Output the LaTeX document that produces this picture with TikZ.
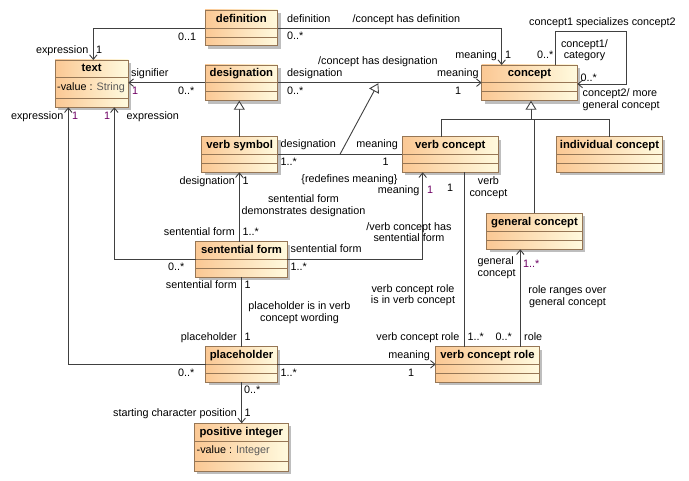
\documentclass[tikz,border=0pt]{standalone}
\usepackage{fontspec}
\setmainfont{Liberation Sans}
\usetikzlibrary{arrows.meta,shadows}
\definecolor{clsL}{RGB}{251,200,148}
\definecolor{clsR}{RGB}{255,250,222}
\definecolor{clsBorder}{RGB}{150,118,85}
\definecolor{shadowGray}{RGB}{190,190,190}
\definecolor{lineGray}{RGB}{64,64,64}
\definecolor{multPurple}{RGB}{110,0,100}
\definecolor{typeGray}{RGB}{90,90,90}
\newcommand\lblfont{\fontsize{10.8}{11.7}\selectfont}
\newcommand\ttlfont{\fontsize{11.3}{12}\selectfont}
\newcommand\umlcls[8]{%
  \node[clsbox, anchor=north west, minimum width={(#4-#2)*1pt}, minimum height={(#5-#3)*1pt}] (#1) at (#2,#3) {};
  \draw[clsline] (#2,#6) -- (#4,#6) (#2,#7) -- (#4,#7);
  \node[clstitle] (#1-t) at ({(#2+#4)/2},{(#3+#6)/2}) {#8};
}
\newcommand\lb[4]{\node[lbl, anchor=#3] (#1) at (#2) {#4};}
\newcommand\lp[4]{\node[lbl, anchor=#3, text=multPurple] (#1) at (#2) {#4};}
\newcommand\ml[5]{\node[mlbl, anchor=#3, align=#4] (#1) at (#2) {#5};}
\tikzset{
  clsbox/.style={draw=clsBorder, line width=0.9pt, left color=clsL, right color=clsR,
    inner sep=0pt, outer sep=0pt,
    drop shadow={shadow xshift=3pt, shadow yshift=-3pt, fill=shadowGray, opacity=1}},
  clsline/.style={draw=clsBorder, line width=0.9pt},
  clstitle/.style={font=\ttlfont\bfseries, inner sep=0pt, text height=8pt, text depth=2.2pt},
  clsattr/.style={font=\lblfont, inner sep=0pt, text height=7.8pt, text depth=2.2pt},
  lbl/.style={font=\lblfont, inner sep=0pt, text height=7.8pt, text depth=2.2pt},
  mlbl/.style={font=\lblfont, inner sep=0pt},
  assoc/.style={draw=lineGray, line width=0.9pt},
  nav/.style={assoc, -{Straight Barb[length=4.5pt,width=7.5pt]}},
  genl/.style={assoc, -{Triangle[fill=white, length=9pt, width=11pt]}},
}
\begin{document}
\begin{tikzpicture}[x=1pt, y=-1pt]
\useasboundingbox[fill=white] (0,0) rectangle (689,481);

% classes
\umlcls{text}{55}{60}{128.3}{107.3}{77.3}{98.3}{text}
\node[clsattr, anchor=west] (text-a) at (57,87.5) {-value : \textcolor{typeGray}{String}};
\umlcls{definition}{205}{10}{277.7}{45.7}{28.3}{37.3}{definition}
\umlcls{designation}{205}{65}{277.7}{100.7}{82.7}{91.7}{designation}
\umlcls{concept}{481.7}{65}{577.3}{100.7}{82.7}{91.7}{concept}
\umlcls{vsym}{201.7}{136.7}{277.7}{172.3}{154.3}{163.3}{verb symbol}
\umlcls{vconcept}{402.3}{136.7}{498.3}{172.3}{154.3}{163.3}{verb concept}
\umlcls{indiv}{556.7}{136.7}{662.3}{172.3}{154.3}{163.3}{individual concept}
\umlcls{gconcept}{486.7}{213.3}{582.3}{249.3}{231.7}{240.7}{general concept}
\umlcls{sentform}{195.7}{241.7}{287.3}{277.3}{259.3}{268.3}{sentential form}
\umlcls{placeholder}{205.7}{346.7}{277.3}{382.3}{364.3}{373.3}{placeholder}
\umlcls{vcr}{435.7}{346.7}{539.3}{382.3}{364.3}{373.3}{verb concept role}
\umlcls{posint}{194.3}{423.3}{288.3}{471}{441.7}{461.7}{positive integer}
\node[clsattr, anchor=west] (posint-a) at (196.5,451) {-value : \textcolor{typeGray}{Integer}};

% connectors
\draw[nav] (definition.west |- 0,28.3) -| (text.north -| 93.3,0);
\draw[nav] (definition.east |- 0,28.3) -| (concept.north -| 501.7,0);
\draw[nav] (designation.west |- 0,82.7) -- (text.east |- 0,82.7);
\draw[nav] (designation.east |- 0,82.7) -- (concept.west |- 0,82.7);
\draw[genl] (vsym.north -| 239.3,0) -- (designation.south -| 239.3,0);
\draw[assoc] (vsym.east |- 0,154.3) -- (vconcept.west |- 0,154.3);
\coordinate (g1) at (340,154.3);
\coordinate (g2) at (378.3,83.2);
\draw[genl] (g1) -- (g2);
\coordinate (tree) at (531,119);
\draw[genl] (tree) -- (concept.south -| 531,0);
\draw[assoc] (vconcept.north -| 441.7,0) -- (441.7,119) -- (609.3,119) -- (indiv.north -| 609.3,0);
\draw[assoc] (gconcept.north -| 534,0) -- (534,119);
\draw[nav] (concept.north -| 555,0) -- (555,31.7) -- (626.7,31.7) -- (626.7,84) -- (concept.east |- 0,84);
\draw[nav] (sentform.west |- 0,259.3) -| (text.south -| 114.3,0);
\draw[nav] (placeholder.west |- 0,364.3) -| (text.south -| 68.3,0);
\draw[nav] (sentform.north -| 239.3,0) -- (vsym.south -| 239.3,0);
\draw[nav] (sentform.east |- 0,259.3) -| (vconcept.south -| 422.7,0);
\draw[assoc] (sentform.south -| 241.7,0) -- (placeholder.north -| 241.7,0);
\draw[nav] (placeholder.east |- 0,364.3) -- (vcr.west |- 0,364.3);
\draw[nav] (placeholder.south -| 241.7,0) -- (posint.north -| 241.7,0);
\draw[assoc] (vconcept.south -| 464.3,0) -- (vcr.north -| 464.3,0);
\draw[nav] (vcr.north -| 520.3,0) -- (gconcept.south -| 520.3,0);

% labels
\lb{l1}{88.5,50.5}{east}{expression}
\lb{l2}{96,50.5}{west}{1}
\lb{l3}{178,37.7}{west}{0..1}
\lb{l4}{287,19.3}{west}{definition}
\lb{l5}{352.5,19.3}{west}{/concept has definition}
\lb{l6}{287,36.7}{west}{0..*}
\lb{l7}{497,56}{east}{meaning}
\lb{l8}{505,56}{west}{1}
\lb{l9}{131,74}{west}{signifier}
\lp{l10}{132,92}{west}{1}
\lb{l11}{178,92}{west}{0..*}
\lb{l12}{318,61.7}{west}{/concept has designation}
\lb{l13}{287,74}{west}{designation}
\lb{l14}{287,92}{west}{0..*}
\lb{l15}{437,74}{west}{meaning}
\lb{l16}{455,92}{west}{1}
\lb{l17}{529,22.7}{west}{concept1 specializes concept2}
\lb{l18}{537,56}{west}{0..*}
\ml{l19}{584.5,50.2}{center}{center}{concept1/\\category}
\lb{l20}{580.5,78.3}{west}{0..*}
\ml{l21}{582.5,100}{west}{left}{concept2/ more\\general concept}
\lb{l22}{63.5,116.7}{east}{expression}
\lp{l23}{72,116.7}{west}{1}
\lp{l24}{104,116.7}{west}{1}
\lb{l25}{126.5,116.7}{west}{expression}
\lb{l26}{280.5,145}{west}{designation}
\lb{l27}{398,145}{east}{meaning}
\lb{l28}{280.5,162.3}{west}{1..*}
\lb{l29}{382.5,162.3}{west}{1}
\lb{l30}{349.5,179.3}{center}{\{redefines meaning\}}
\lb{l31}{235,181.7}{east}{designation}
\lb{l32}{242.5,181.7}{west}{1}
\ml{l33}{303.5,205.8}{center}{center}{sentential form\\demonstrates designation}
\lb{l34}{419.5,191}{east}{meaning}
\lp{l35}{427,191}{west}{1}
\lb{l36}{235,232.3}{east}{sentential form}
\lb{l37}{242.5,232.3}{west}{1..*}
\ml{l38}{409,232}{center}{center}{/verb concept has\\sentential form}
\lb{l39}{290.5,250}{west}{sentential form}
\lb{l40}{290.5,268}{west}{1..*}
\lb{l41}{168,268}{west}{0..*}
\ml{l42}{488.5,187.5}{center}{center}{verb\\concept}
\lb{l43}{447,188.3}{west}{1}
\ml{l44}{477.5,267.8}{west}{left}{general\\concept}
\lp{l45}{523,264.3}{west}{1..*}
\lb{l46}{237,286}{east}{sentential form}
\lb{l47}{244.5,286}{west}{1}
\ml{l48}{299.5,312.5}{center}{center}{placeholder is in verb\\concept wording}
\lb{l49}{237,337.3}{east}{placeholder}
\lb{l50}{244.5,337.3}{west}{1}
\lb{l51}{178,373.3}{west}{0..*}
\lb{l52}{280.5,373.3}{west}{1..*}
\ml{l53}{413,295.2}{center}{center}{verb concept role\\is in verb concept}
\ml{l54}{567.5,296.7}{center}{center}{role ranges over\\general concept}
\lb{l55}{459.5,337.3}{east}{verb concept role}
\lb{l56}{467.5,337.3}{west}{1..*}
\lb{l57}{495.5,337.3}{west}{0..*}
\lb{l58}{524,337.3}{west}{role}
\lb{l59}{430,355.7}{east}{meaning}
\lb{l60}{408,373.3}{west}{1}
\lb{l61}{244,390.7}{west}{0..*}
\lb{l62}{237,414}{east}{starting character position}
\lb{l63}{244.5,414}{west}{1}
\end{tikzpicture}
\end{document}
